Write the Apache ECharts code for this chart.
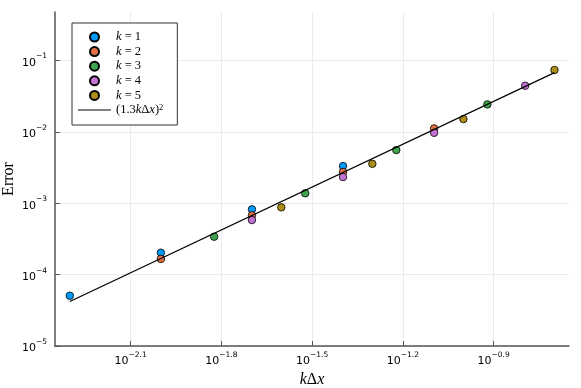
<!DOCTYPE html>
<html>
<head>
<meta charset="utf-8">
<script src="https://cdn.jsdelivr.net/npm/echarts@6/dist/echarts.min.js"></script>
<style>
  html, body { margin: 0; padding: 0; background: #fff; }
  #chart { width: 581px; height: 388px; }
</style>
</head>
<body>
<div id="chart"></div>
<script>
// ===== datos =====
const K_NAMES = ['1', '2', '3', '4', '5'];
const COLORS = ['#009afa', '#e36f47', '#3ea44e', '#c371d2', '#ac8e18'];

const kdx1 = [0.005, 0.01, 0.02, 0.04];
const err1 = [5.06e-5, 2.03e-4, 8.22e-4, 3.32e-3];
const kdx2 = [0.01, 0.02, 0.04, 0.08];
const err2 = [1.66e-4, 6.78e-4, 2.74e-3, 1.12e-2];
const kdx3 = [0.015, 0.03, 0.06, 0.12];
const err3 = [3.40e-4, 1.38e-3, 5.56e-3, 2.43e-2];
const kdx4 = [0.02, 0.04, 0.08, 0.16];
const err4 = [5.82e-4, 2.33e-3, 9.71e-3, 4.43e-2];
const kdx5 = [0.025, 0.05, 0.1, 0.2];
const err5 = [8.77e-4, 3.57e-3, 1.51e-2, 7.36e-2];

// recta de referencia (1.3 kΔx)^2, extremos
const refX = [0.005, 0.2];
const refY = [4.2e-5, 0.0676];

// ticks (exponentes de 10)
const X_TICKS = [-2.1, -1.8, -1.5, -1.2, -0.9];
const Y_TICKS = [-5, -4, -3, -2, -1];

// ---- utilidades ----
const lg = v => Math.log10(v);
const pts = (xs, ys) => xs.map((x, i) => [lg(x), lg(ys[i])]);
const minus = s => s.replace('-', '\u2212');
const SANS = 'DejaVu Sans';
const SERIF = 'Liberation Serif';

const tickRich = {
  b: { fontFamily: SANS, fontSize: 11, color: '#000', padding: [5, 0, 0, 0] },
  s: { fontFamily: SANS, fontSize: 7.5, color: '#000', verticalAlign: 'top' },
};

const groups = [[kdx1, err1], [kdx2, err2], [kdx3, err3], [kdx4, err4], [kdx5, err5]];

const series = groups.map(([xs, ys], i) => ({
  name: 'k' + K_NAMES[i],
  type: 'scatter',
  data: pts(xs, ys),
  symbol: 'circle',
  symbolSize: 7.5,
  itemStyle: { color: COLORS[i], borderColor: '#000', borderWidth: 0.8, opacity: 1 },
  z: 2,
}));
series.push({
  name: 'ref',
  type: 'line',
  data: pts(refX, refY),
  symbol: 'none',
  itemStyle: { color: '#000' },
  lineStyle: { color: '#000', width: 1.2 },
  z: 3,
});

const legendRich = {
  i: { fontFamily: SERIF, fontStyle: 'italic', fontSize: 12.5, color: '#000', lineHeight: 14 },
  r: { fontFamily: SERIF, fontSize: 12.5, color: '#000', lineHeight: 14 },
  s: { fontFamily: SERIF, fontSize: 8.5, color: '#000', verticalAlign: 'top', lineHeight: 14 },
};

const legendData = series.map(s => s.type === 'line'
  ? { name: s.name, icon: 'path://M0,0L33,0L33,1.2L0,1.2Z', itemStyle: { color: '#000', borderWidth: 0 } }
  : { name: s.name, icon: 'circle' });

const chart = echarts.init(document.getElementById('chart'), null, { renderer: 'canvas' });
chart.setOption({
  animation: false,
  backgroundColor: '#fff',
  grid: { left: 55, top: 12, right: 12, bottom: 42, containLabel: false, outerBoundsMode: 'none' },
  legend: {
    orient: 'vertical',
    left: 72, top: 23,
    padding: [7, 14, 8, 6],
    itemWidth: 33, itemHeight: 9, itemGap: 0.6,
    borderColor: '#333', borderWidth: 1,
    backgroundColor: '#fff',
    data: legendData,
    formatter: name => name === 'ref'
      ? '{r|(1.3}{i|k}{r|Δ}{i|x}{r|)}{s|2}'
      : '{i|k}{r| = ' + name.slice(1) + '}',
    textStyle: { fontSize: 12.5, lineHeight: 14, rich: legendRich },
  },
  xAxis: {
    type: 'value',
    min: -2.35, max: -0.651,
    name: '{i|k}{r|Δ}{i|x}',
    nameLocation: 'middle',
    nameGap: 24,
    nameTextStyle: {
      rich: {
        i: { fontFamily: SERIF, fontStyle: 'italic', fontSize: 16, color: '#000' },
        r: { fontFamily: SERIF, fontSize: 16, color: '#000' },
      },
    },
    axisLine: { onZero: false, lineStyle: { color: '#555', width: 1.5 } },
    axisTick: { inside: true, length: 5, lineStyle: { color: '#555', width: 1 }, customValues: X_TICKS },
    axisLabel: {
      customValues: X_TICKS, margin: 5,
      formatter: v => '{b|10}{s|' + minus(v.toFixed(1)) + '}',
      rich: tickRich,
    },
    splitLine: { show: true, lineStyle: { color: '#ebebeb', width: 1 } },
  },
  yAxis: {
    type: 'value',
    min: -5, max: -0.32,
    name: 'Error',
    nameLocation: 'middle',
    nameGap: 38,
    nameMoveOverlap: false,
    nameTextStyle: { fontFamily: SERIF, fontSize: 16, color: '#000' },
    axisLine: { show: true, onZero: false, lineStyle: { color: '#555', width: 1.5 } },
    axisTick: { show: true, inside: true, length: 5, lineStyle: { color: '#555', width: 1 }, customValues: Y_TICKS },
    axisLabel: {
      customValues: Y_TICKS, margin: 8,
      formatter: v => '{b|10}{s|' + minus(String(Math.round(v))) + '}',
      rich: tickRich,
    },
    splitLine: { show: true, lineStyle: { color: '#ebebeb', width: 1 } },
  },
  series,
});
</script>
</body>
</html>
